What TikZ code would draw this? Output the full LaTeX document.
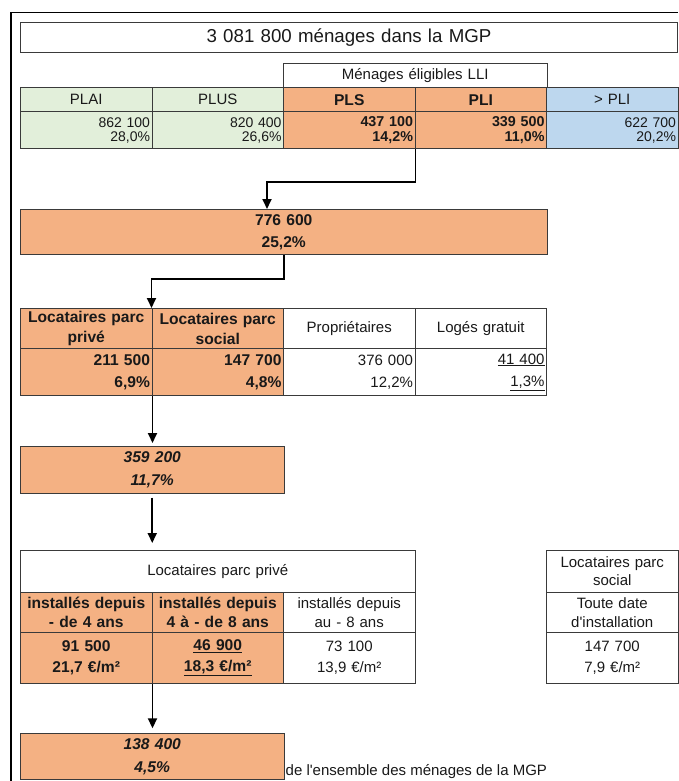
\documentclass[tikz,border=0pt]{standalone}
\usepackage{fontspec}
\setmainfont{Liberation Sans}
\newfontfamily\plainsans{Liberation Sans}
\usetikzlibrary{arrows.meta}
\definecolor{plgreen}{HTML}{E2EFDA}
\definecolor{lliorange}{HTML}{F4B183}
\definecolor{plblue}{HTML}{BDD7EE}
\definecolor{gridgray}{HTML}{3A3A3A}
\newcommand\fnt[1]{\fontsize{15}{#1}\selectfont}
\newcommand\fntb[1]{\fontsize{15.6}{#1}\selectfont\bfseries}
\tikzset{
  cellbox/.style={draw=gridgray, line width=1pt, inner sep=2pt, anchor=north west,
    text width=127.5pt, align=center, text=black!90, font=\fnt{19}},
  numbox/.style={cellbox, align=right, font=\fontsize{14}{14.2}\selectfont},
  flow/.style={draw, line width=1.8pt, -{Triangle[length=10pt,width=9pt]}},
}
\begin{document}
\begin{tikzpicture}[x=1pt,y=-1pt]
\useasboundingbox (0,0) rectangle (678,781);
% outer frame
\draw[line width=1.8pt] (11,781) -- (11,12.5) -- (678,12.5);
\node[cellbox, text width=653pt, minimum height=30pt, font=\fontsize{18.7}{22}\selectfont] (mgp) at (20,22) {3 081 800 ménages dans la MGP};
% income ceilings
\node[cellbox, text width=259.5pt, minimum height=24pt] (lli) at (283,63.3) {Ménages éligibles LLI};
\node[cellbox, fill=plgreen, minimum height=23.7pt] (plai) at (20,87.3) {PLAI};
\node[cellbox, fill=plgreen, minimum height=23.7pt] (plus) at (151.5,87.3) {PLUS};
\node[cellbox, fill=lliorange, minimum height=23.7pt, font=\fntb{19}] (pls) at (283,87.3) {PLS};
\node[cellbox, fill=lliorange, minimum height=23.7pt, font=\fntb{19}] (pli) at (414.5,87.3) {PLI};
\node[cellbox, fill=plblue, minimum height=23.7pt] (abovepli) at (546,87.3) {> PLI};
\node[numbox, fill=plgreen, minimum height=37.3pt] (plai1) at (20,111) {862 100\\28,0\%};
\node[numbox, fill=plgreen, minimum height=37.3pt] (plus1) at (151.5,111) {820 400\\26,6\%};
\node[numbox, fill=lliorange, minimum height=37.3pt, font=\fontsize{14.3}{14.2}\selectfont\bfseries] (pls1) at (283,111) {437 100\\14,2\%};
\node[numbox, fill=lliorange, minimum height=37.3pt, font=\fontsize{14.3}{14.2}\selectfont\bfseries] (pli1) at (414.5,111) {339 500\\11,0\%};
\node[numbox, fill=plblue, minimum height=37.3pt] (abovepli1) at (546,111) {622 700\\20,2\%};
% eligible households
\node[cellbox, fill=lliorange, text width=522.5pt, minimum height=45.3pt, font=\fntb{22.3}] (tot) at (20,209) {776 600\\25,2\%};
% status of occupancy
\node[cellbox, fill=lliorange, minimum height=40pt, font=\fntb{20}] (lpp) at (20,308) {Locataires parc\\privé};
\node[cellbox, fill=lliorange, minimum height=40pt, font=\fntb{20}] (lps) at (151.5,308) {Locataires parc\\social};
\node[cellbox, minimum height=40pt] (prop) at (283,308) {Propriétaires};
\node[cellbox, minimum height=40pt] (free) at (414.5,308) {Logés gratuit};
\node[numbox, fill=lliorange, minimum height=47pt, font=\fntb{22.3}] (lpp1) at (20,348) {211 500\\6,9\%};
\node[numbox, fill=lliorange, minimum height=47pt, font=\fntb{22.3}] (lps1) at (151.5,348) {147 700\\4,8\%};
\node[numbox, minimum height=47pt, font=\fnt{22.3}] (prop1) at (283,348) {376 000\\12,2\%};
\node[numbox, minimum height=47pt, font=\fnt{22.3}] (free1) at (414.5,348) {\underline{41 400}\\\underline{1,3\%}};
% private tenants
\node[cellbox, fill=lliorange, text width=259.5pt, minimum height=46.7pt, font=\fntb{22.4}\itshape] (priv) at (20,446) {359 200\\11,7\%};
\node[cellbox, text width=390.5pt, minimum height=41.7pt] (lpp2) at (20,550) {Locataires parc privé};
\node[cellbox, fill=lliorange, minimum height=40.6pt, font=\fntb{19.4}] (in4) at (20,591.7) {installés depuis\\- de 4 ans};
\node[cellbox, fill=lliorange, minimum height=40.6pt, font=\fntb{19.4}] (in8) at (151.5,591.7) {installés depuis\\4 à - de 8 ans};
\node[cellbox, minimum height=40.6pt, font=\fnt{19.4}] (inold) at (283,591.7) {installés depuis\\au - 8 ans};
\node[cellbox, fill=lliorange, minimum height=50.4pt, font=\fntb{20.7}] (in4v) at (20,632.3) {91 500\\21,7 €/m²};
\node[cellbox, fill=lliorange, minimum height=50.4pt, font=\fntb{20.7}] (in8v) at (151.5,632.3) {\underline{46 900}\\\underline{18,3 €/m²}};
\node[cellbox, minimum height=50.4pt, font=\fnt{20.7}] (inoldv) at (283,632.3) {73 100\\13,9 €/m²};
% social tenants
\node[cellbox, minimum height=41.7pt, font=\fnt{18.3}] (lps2) at (546,550) {Locataires parc\\social};
\node[cellbox, minimum height=40.6pt, font=\plainsans\fnt{18.3}] (anydate) at (546,591.7) {Toute date\\d'installation};
\node[cellbox, minimum height=50.4pt, font=\fnt{20.7}] (anydatev) at (546,632.3) {147 700\\7,9 €/m²};
% result
\node[cellbox, fill=lliorange, text width=259.5pt, minimum height=46pt, font=\fntb{23.3}\itshape] (res) at (20,733.3) {138 400\\4,5\%};
\node[anchor=west, inner sep=1pt, font=\plainsans\fnt{19}, text=black!90] (note) at ([yshift=-15pt]res.east) {de l'ensemble des ménages de la MGP};
% arrows
\coordinate (k1) at (267,182);
\coordinate (k2) at (151.5,279);
\draw[flow] (pls1.south east) |- (k1) -- (k1 |- tot.north);
\draw[flow] (tot.south) |- (k2) -- (k2 |- lpp.north);
\draw[flow, shorten >=3pt] (lpp1.south east) -- (lpp1.south east |- priv.north);
\draw[flow, shorten <=4pt, shorten >=7pt] (priv.south) -- (priv.south |- lpp2.north);
\draw[flow, shorten >=5pt] (in4v.south east) -- (in4v.south east |- res.north);
\end{tikzpicture}
\end{document}
